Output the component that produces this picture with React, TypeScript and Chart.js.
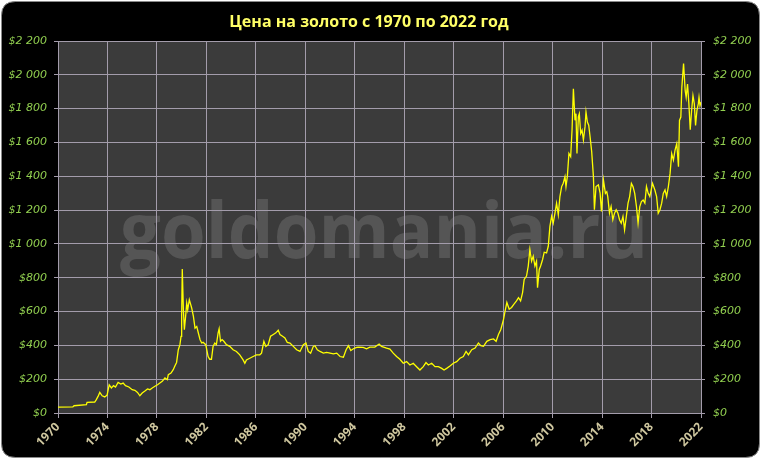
import { useEffect, useRef } from 'react';
import { Chart, registerables } from 'chart.js';

Chart.register(...registerables);

const TITLE = 'Цена на золото с 1970 по 2022 год';
const WATERMARK = 'goldomania.ru';
const yearTicks = [1970, 1974, 1978, 1982, 1986, 1990, 1994, 1998, 2002, 2006, 2010, 2014, 2018, 2022];
const priceTicks = [0, 200, 400, 600, 800, 1000, 1200, 1400, 1600, 1800, 2000, 2200];

const dates = [
  1970.0, 1971.2, 1971.3, 1972.3, 1972.35, 1972.97, 1973.1, 1973.24, 1973.38, 1973.57, 1973.78, 1973.97,
  1974.14, 1974.32, 1974.49, 1974.65, 1974.86, 1975.08, 1975.27, 1975.46, 1975.73, 1976.0, 1976.22, 1976.43,
  1976.62, 1976.81, 1977.03, 1977.24, 1977.43, 1977.62, 1977.84, 1978.05, 1978.24, 1978.43, 1978.65, 1978.84,
  1978.92, 1979.14, 1979.32, 1979.46, 1979.59, 1979.73, 1979.86, 1979.95, 1980.0, 1980.05, 1980.14, 1980.22,
  1980.32, 1980.41, 1980.49, 1980.62, 1980.7, 1980.81, 1980.95, 1981.08, 1981.22, 1981.35, 1981.49, 1981.62,
  1981.73, 1981.95, 1982.14, 1982.27, 1982.41, 1982.54, 1982.68, 1982.81, 1982.95, 1983.03, 1983.14, 1983.27,
  1983.41, 1983.62, 1983.89, 1984.16, 1984.43, 1984.7, 1984.97, 1985.11, 1985.24, 1985.51, 1985.78, 1986.05,
  1986.32, 1986.46, 1986.65, 1986.81, 1987.0, 1987.19, 1987.41, 1987.62, 1987.81, 1987.95, 1988.16, 1988.35,
  1988.54, 1988.76, 1989.03, 1989.3, 1989.57, 1989.84, 1990.05, 1990.24, 1990.43, 1990.65, 1990.78, 1990.97,
  1991.19, 1991.46, 1991.73, 1992.0, 1992.27, 1992.54, 1992.81, 1993.08, 1993.3, 1993.49, 1993.68, 1993.89,
  1994.16, 1994.27, 1994.68, 1994.95, 1995.22, 1995.62, 1995.97, 1996.16, 1996.57, 1996.84, 1997.11, 1997.38,
  1997.65, 1997.92, 1998.19, 1998.46, 1998.73, 1999.0, 1999.27, 1999.54, 1999.76, 1999.95, 2000.22, 2000.49,
  2000.76, 2001.03, 2001.22, 2001.43, 2001.7, 2001.97, 2002.24, 2002.51, 2002.78, 2003.0, 2003.19, 2003.46,
  2003.73, 2004.0, 2004.19, 2004.41, 2004.68, 2004.95, 2005.22, 2005.43, 2005.62, 2005.81, 2006.03, 2006.16,
  2006.3, 2006.49, 2006.68, 2006.86, 2007.08, 2007.24, 2007.41, 2007.57, 2007.7, 2007.89, 2008.03, 2008.16,
  2008.3, 2008.43, 2008.57, 2008.7, 2008.78, 2008.92, 2009.03, 2009.19, 2009.32, 2009.51, 2009.65, 2009.78,
  2009.92, 2010.05, 2010.19, 2010.32, 2010.46, 2010.59, 2010.73, 2010.86, 2011.0, 2011.08, 2011.19, 2011.32,
  2011.46, 2011.57, 2011.68, 2011.81, 2011.89, 2011.97, 2012.08, 2012.16, 2012.27, 2012.38, 2012.49, 2012.62,
  2012.7, 2012.81, 2012.92, 2013.03, 2013.16, 2013.3, 2013.38, 2013.51, 2013.7, 2013.84, 2013.95, 2014.03,
  2014.11, 2014.27, 2014.38, 2014.46, 2014.6, 2014.73, 2014.87, 2015.01, 2015.14, 2015.28, 2015.41, 2015.55,
  2015.69, 2015.82, 2015.96, 2016.1, 2016.23, 2016.37, 2016.5, 2016.64, 2016.78, 2016.91, 2017.05, 2017.18,
  2017.32, 2017.46, 2017.59, 2017.73, 2017.86, 2018.08, 2018.27, 2018.41, 2018.54, 2018.68, 2018.82, 2018.95,
  2019.09, 2019.22, 2019.36, 2019.5, 2019.63, 2019.77, 2019.9, 2020.04, 2020.18, 2020.26, 2020.37, 2020.45,
  2020.59, 2020.72, 2020.8, 2020.91, 2021.02, 2021.13, 2021.24, 2021.35, 2021.46, 2021.56, 2021.67, 2021.78,
  2021.84, 2021.92, 2022.0,
];

const prices = [
  35, 36, 43, 50, 63, 65, 79, 98, 122, 102, 95, 106,
  167, 148, 162, 154, 181, 171, 177, 162, 154, 138, 134, 122,
  102, 118, 130, 142, 138, 148, 158, 167, 177, 187, 207, 197,
  227, 236, 256, 280, 299, 374, 404, 453, 571, 851, 611, 493,
  571, 650, 611, 670, 650, 621, 571, 502, 512, 473, 433, 414,
  418, 404, 334, 318, 318, 394, 414, 404, 474, 498, 424, 434,
  424, 404, 394, 374, 364, 344, 314, 294, 314, 324, 334, 344,
  344, 354, 424, 394, 404, 454, 464, 474, 490, 464, 454, 444,
  418, 414, 394, 374, 364, 404, 414, 364, 354, 394, 398, 374,
  364, 354, 358, 354, 350, 354, 334, 330, 374, 398, 370, 380,
  388, 390, 388, 380, 390, 390, 408, 394, 384, 378, 354, 334,
  318, 294, 304, 284, 294, 274, 254, 274, 298, 284, 294, 274,
  274, 264, 254, 264, 278, 294, 304, 324, 334, 364, 344, 374,
  384, 414, 398, 394, 424, 434, 438, 424, 464, 494, 554, 604,
  654, 614, 624, 643, 663, 682, 663, 712, 790, 810, 869, 967,
  898, 927, 869, 898, 741, 849, 869, 908, 951, 947, 986, 1104,
  1163, 1123, 1182, 1241, 1172, 1280, 1339, 1359, 1398, 1339, 1398, 1535,
  1516, 1672, 1917, 1731, 1770, 1535, 1751, 1770, 1653, 1672, 1614, 1692,
  1780, 1721, 1702, 1633, 1545, 1398, 1202, 1339, 1349, 1300, 1192, 1280,
  1378, 1299, 1309, 1280, 1182, 1221, 1143, 1182, 1202, 1182, 1143, 1123,
  1162, 1084, 1162, 1241, 1280, 1358, 1339, 1299, 1221, 1123, 1221, 1250,
  1260, 1241, 1339, 1299, 1280, 1358, 1319, 1280, 1182, 1202, 1241, 1299,
  1319, 1280, 1339, 1417, 1534, 1495, 1554, 1593, 1456, 1730, 1750, 1926,
  2067, 1906, 1867, 1945, 1828, 1675, 1789, 1877, 1828, 1701, 1789, 1828,
  1867, 1818, 1838,
];

function fmtPrice(v: number): string {
  if (v >= 1000) {
    const th = Math.floor(v / 1000);
    const rest = String(v % 1000).padStart(3, '0');
    return '$' + th + ' ' + rest;
  }
  return '$' + v;
}

export default function App() {
  const ref = useRef<HTMLCanvasElement>(null);

  useEffect(() => {
    const canvas = ref.current;
    if (!canvas) return;

    const bgPlugin = {
      id: 'bgPlugin',
      beforeDraw(chart: any) {
        const { ctx, chartArea: a, width, height } = chart;
        ctx.save();
        ctx.fillStyle = '#ffffff';
        ctx.fillRect(0, 0, width, height);
        // rounded black frame
        const x = 1.5, y = 1.5, w = width - 3, h = height - 3, r = 14;
        ctx.beginPath();
        ctx.moveTo(x + r, y);
        ctx.lineTo(x + w - r, y);
        ctx.quadraticCurveTo(x + w, y, x + w, y + r);
        ctx.lineTo(x + w, y + h - r);
        ctx.quadraticCurveTo(x + w, y + h, x + w - r, y + h);
        ctx.lineTo(x + r, y + h);
        ctx.quadraticCurveTo(x, y + h, x, y + h - r);
        ctx.lineTo(x, y + r);
        ctx.quadraticCurveTo(x, y, x + r, y);
        ctx.closePath();
        ctx.fillStyle = '#000000';
        ctx.fill();
        ctx.strokeStyle = '#8a8a8a';
        ctx.lineWidth = 1;
        ctx.stroke();
        // plot area
        ctx.fillStyle = '#3b3b3b';
        ctx.fillRect(a.left, a.top, a.right - a.left, a.bottom - a.top);
        // watermark (semi-bold look, fitted to its width in the reference)
        ctx.font = "bold 77px 'Open Sans'";
        ctx.fillStyle = '#555555';
        ctx.textAlign = 'center';
        ctx.textBaseline = 'alphabetic';
        const tw = ctx.measureText(WATERMARK).width;
        const sx = Math.min(1, 528 / tw);
        ctx.save();
        ctx.translate(384, 258);
        ctx.scale(sx, 1);
        ctx.fillText(WATERMARK, 0, 0);
        ctx.restore();
        // title
        ctx.font = "bold 16px 'Open Sans'";
        ctx.fillStyle = '#ffff66';
        ctx.textAlign = 'center';
        ctx.textBaseline = 'middle';
        ctx.fillText(TITLE, 369, 22);
        ctx.restore();
      },
    };

    const gridColor = '#a39cab';
    const yTickFont = { family: "'DejaVu Sans'", size: 11, style: 'italic' as const };

    const chart = new Chart(canvas, {
      type: 'line',
      data: {
        datasets: [
          {
            data: dates.map((d, i) => ({ x: d, y: prices[i] })),
            borderColor: '#ffff00',
            borderWidth: 1.3,
            pointRadius: 0,
            tension: 0,
            fill: false,
          },
        ],
      },
      options: {
        responsive: false,
        animation: false,
        devicePixelRatio: 1,
        layout: { padding: { top: 41, left: 0, right: 0, bottom: 0 } },
        plugins: {
          legend: { display: false },
          tooltip: { enabled: false },
          title: { display: false },
        },
        scales: {
          x: {
            type: 'linear',
            position: 'bottom',
            min: 1970,
            max: 2022,
            afterBuildTicks: (s: any) => {
              s.ticks = yearTicks.map((v) => ({ value: v }));
            },
            afterFit: (s: any) => {
              s.height = 46;
            },
            ticks: {
              color: '#cfc79f',
              font: { family: "'Open Sans'", size: 12, weight: 'bold' },
              minRotation: 45,
              maxRotation: 45,
              padding: 2,
              autoSkip: false,
              callback: (v: any) => String(v),
            },
            grid: { color: gridColor, lineWidth: 1, tickLength: 5, drawTicks: true },
            border: { color: gridColor, width: 1 },
          },
          y: {
            type: 'linear',
            position: 'left',
            min: 0,
            max: 2200,
            afterBuildTicks: (s: any) => {
              s.ticks = priceTicks.map((v) => ({ value: v }));
            },
            afterFit: (s: any) => {
              s.width = 58;
            },
            ticks: {
              color: '#92d050',
              font: yTickFont,
              padding: 7,
              callback: (v: any) => fmtPrice(Number(v)),
            },
            grid: { color: gridColor, lineWidth: 1, tickLength: 4 },
            border: { color: gridColor, width: 1 },
          },
          y2: {
            type: 'linear',
            position: 'right',
            min: 0,
            max: 2200,
            afterBuildTicks: (s: any) => {
              s.ticks = priceTicks.map((v) => ({ value: v }));
            },
            afterFit: (s: any) => {
              s.width = 60;
            },
            ticks: {
              color: '#92d050',
              font: yTickFont,
              padding: 8,
              callback: (v: any) => fmtPrice(Number(v)),
            },
            grid: { color: gridColor, lineWidth: 1, tickLength: 4, drawOnChartArea: false },
            border: { color: gridColor, width: 1 },
          },
        },
      },
      plugins: [bgPlugin],
    });

    return () => {
      chart.destroy();
    };
  }, []);

  return (
    <div style={{ position: 'absolute', left: 0, top: 0, width: 761, height: 459 }}>
      <canvas ref={ref} width={761} height={459} style={{ display: 'block', width: 761, height: 459 }} />
    </div>
  );
}
